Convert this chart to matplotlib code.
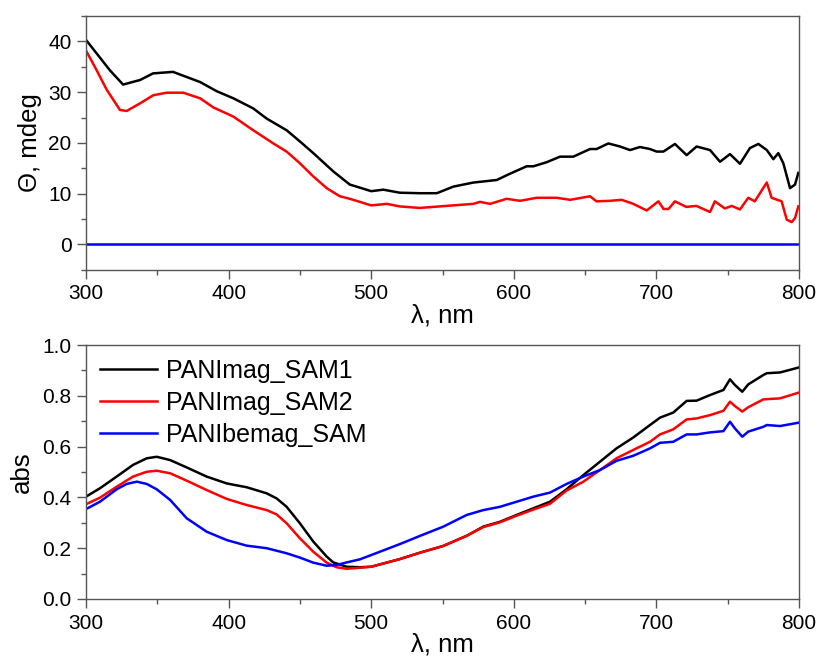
import matplotlib
matplotlib.use("Agg")
import matplotlib.pyplot as plt
from matplotlib.ticker import MultipleLocator

plt.rcParams['font.family'] = ['Liberation Sans', 'DejaVu Sans']

# ---- CD spectra (top) ----
cd_x_sam1 = [300, 316.8, 326, 337.9, 347, 361, 380, 391.6, 403.3, 417.3, 426.7, 440.7, 450, 459.4,
             473.4, 485, 492, 500, 508.5, 520, 534, 546, 557.6, 571.6, 588, 597, 609, 613.7, 623,
             632.4, 641.7, 653.4, 658, 666.3, 674.5, 681.5, 688.5, 695.5, 700.2, 704.9, 713, 721.2,
             728.2, 737.6, 744.6, 751.6, 758.6, 765.6, 771.5, 777.4, 782, 785.5, 789, 793.7, 797.2, 799.5]
cd_y_sam1 = [40.3, 34.3, 31.5, 32.4, 33.7, 34.0, 32.0, 30.2, 28.8, 26.8, 24.8, 22.5, 20.3, 18.0,
             14.4, 11.8, 11.2, 10.5, 10.8, 10.2, 10.1, 10.1, 11.4, 12.2, 12.7, 13.9, 15.4, 15.4, 16.2,
             17.3, 17.3, 18.8, 18.8, 19.9, 19.3, 18.6, 19.2, 18.8, 18.3, 18.3, 19.8, 17.6,
             19.3, 18.6, 16.3, 17.8, 15.9, 19.0, 19.8, 18.6, 16.8, 18.0, 16.0, 11.1, 11.8, 14.1]

cd_x_sam2 = [300, 307.5, 314.5, 323.8, 328.5, 337.9, 347.2, 356.6, 368.2, 380, 389.3, 403.3, 417.3,
             431.4, 440.7, 450, 459.4, 468.8, 478, 485, 492, 500, 511, 520, 534, 548, 571.6, 576.3,
             583.3, 595, 604.4, 616, 630, 639.5, 653.4, 658, 667.5, 675.7, 683.8, 693.2, 701.4, 705,
             708.5, 713, 721, 728, 737.6, 741, 748, 752.8, 758.6, 764.4, 769, 772.6, 777.4, 780.8,
             787.8, 791.4, 794.9, 797.2, 799.5]
cd_y_sam2 = [38.2, 34.3, 30.5, 26.5, 26.3, 27.8, 29.4, 29.9, 29.9, 28.8, 27.0, 25.2, 22.5,
             19.9, 18.3, 16.0, 13.4, 11.1, 9.5, 9.0, 8.4, 7.7, 8.0, 7.5, 7.2, 7.5, 8.0, 8.4,
             8.0, 9.0, 8.6, 9.2, 9.2, 8.8, 9.5, 8.5, 8.6, 8.8, 8.0, 6.7, 8.5, 7.0,
             7.0, 8.5, 7.4, 7.6, 6.4, 8.5, 7.1, 7.6, 6.9, 9.2, 8.5, 10.1, 12.2, 9.2,
             8.5, 4.9, 4.4, 5.2, 7.5]

cd_x_bemag = [300, 800]
cd_y_bemag = [0, 0]

# ---- absorption spectra (bottom) ----
abs_x_sam1 = [300, 309.8, 321.5, 333, 342.6, 349.6, 359, 370.6, 384.6, 398.7, 412.7, 426.7, 433.7,
              440.7, 450, 459.4, 468.8, 473.4, 482.8, 492, 500, 520, 534, 550.6, 567, 578.6, 590.3,
              602, 613.7, 625.4, 637, 648.8, 660.5, 672, 683.8, 695.5, 702.5, 711.8, 721.2, 728.2,
              737.6, 747, 751.6, 755, 760.2, 764.4, 775, 777.4, 786.7, 799.5]
abs_y_sam1 = [0.403, 0.436, 0.482, 0.528, 0.554, 0.560, 0.547, 0.518, 0.482, 0.455, 0.440, 0.416, 0.396,
              0.363, 0.298, 0.226, 0.167, 0.144, 0.127, 0.125, 0.127, 0.157, 0.182, 0.209, 0.249, 0.285, 0.304,
              0.331, 0.357, 0.383, 0.432, 0.488, 0.541, 0.593, 0.636, 0.685, 0.714, 0.734, 0.780, 0.781,
              0.803, 0.823, 0.865, 0.843, 0.816, 0.845, 0.882, 0.889, 0.892, 0.911]

abs_x_sam2 = [300, 309.8, 321.5, 333, 342.6, 349.6, 359, 370.6, 384.6, 398.7, 412.7, 426.7, 433.7,
              440.7, 450, 459.4, 468.8, 475.7, 482.8, 492, 500, 520, 534, 550.6, 567, 578.6, 590.3,
              602, 613.7, 625.4, 637, 648.8, 660.5, 672, 683.8, 695.5, 702.5, 711.8, 721.2, 728.2,
              737.6, 747, 751.6, 755, 760.2, 764.4, 775, 786.7, 799.5]
abs_y_sam2 = [0.373, 0.399, 0.442, 0.482, 0.501, 0.505, 0.495, 0.466, 0.429, 0.394, 0.370, 0.350, 0.333,
              0.298, 0.239, 0.186, 0.143, 0.125, 0.119, 0.123, 0.127, 0.157, 0.182, 0.209, 0.249, 0.283, 0.302,
              0.328, 0.352, 0.375, 0.427, 0.462, 0.508, 0.554, 0.587, 0.619, 0.648, 0.668, 0.707, 0.711,
              0.724, 0.741, 0.777, 0.760, 0.738, 0.755, 0.786, 0.790, 0.812]

abs_x_bemag = [300, 309.8, 321.5, 328.5, 335.6, 342.6, 349.6, 359, 370.6, 384.6, 398.7, 412.7, 426.7,
               433.7, 440.7, 450, 459.4, 468.8, 475.7, 482.8, 492, 500, 520, 534, 550.6, 567, 578.6,
               590.3, 602, 613.7, 625.4, 637, 648.8, 660.5, 672, 683.8, 695.5, 702.5, 711.8, 721.2,
               728.2, 737.6, 747, 751.6, 755, 760.2, 764.4, 775, 777.4, 786.7, 799.5]
abs_y_bemag = [0.354, 0.383, 0.432, 0.453, 0.462, 0.453, 0.432, 0.390, 0.318, 0.265, 0.232, 0.210, 0.200,
               0.190, 0.180, 0.163, 0.143, 0.131, 0.134, 0.144, 0.156, 0.173, 0.216, 0.248, 0.285, 0.331, 0.350,
               0.363, 0.383, 0.403, 0.419, 0.453, 0.482, 0.508, 0.544, 0.564, 0.593, 0.615, 0.619, 0.648,
               0.648, 0.656, 0.661, 0.698, 0.672, 0.639, 0.659, 0.678, 0.685, 0.681, 0.694]

labels = ['PANImag_SAM1', 'PANImag_SAM2', 'PANIbemag_SAM']
colors = ['black', 'red', 'blue']

fig = plt.figure(figsize=(8.19, 6.68), dpi=100)
ax1 = fig.add_axes([0.105, 0.596, 0.8706, 0.380])
ax2 = fig.add_axes([0.105, 0.1033, 0.8706, 0.3802])

lw = 1.8
ax1.plot(cd_x_sam1, cd_y_sam1, color=colors[0], lw=lw)
ax1.plot(cd_x_sam2, cd_y_sam2, color=colors[1], lw=lw)
ax1.plot(cd_x_bemag, cd_y_bemag, color=colors[2], lw=lw)

ax2.plot(abs_x_sam1, abs_y_sam1, color=colors[0], lw=lw, label=labels[0])
ax2.plot(abs_x_sam2, abs_y_sam2, color=colors[1], lw=lw, label=labels[1])
ax2.plot(abs_x_bemag, abs_y_bemag, color=colors[2], lw=lw, label=labels[2])

ax1.set_xlim(300, 800)
ax1.set_ylim(-5, 45)
ax1.yaxis.set_major_locator(MultipleLocator(10))
ax1.yaxis.set_minor_locator(MultipleLocator(5))
ax1.set_ylabel('Θ, mdeg', fontsize=18.5, labelpad=4)

ax2.set_xlim(300, 800)
ax2.set_ylim(0, 1.0)
ax2.yaxis.set_major_locator(MultipleLocator(0.2))
ax2.yaxis.set_minor_locator(MultipleLocator(0.1))
ax2.yaxis.set_major_formatter(matplotlib.ticker.FormatStrFormatter('%.1f'))
ax2.set_ylabel('abs', fontsize=18.5, labelpad=6)

for ax in (ax1, ax2):
    ax.xaxis.set_major_locator(MultipleLocator(100))
    ax.xaxis.set_minor_locator(MultipleLocator(50))
    ax.set_xlabel('λ, nm', fontsize=18.5, labelpad=0)
    ax.tick_params(which='major', direction='out', length=6.5, width=1, labelsize=15,
                   colors='#555555', labelcolor='black', pad=4)
    ax.tick_params(which='minor', direction='out', length=3.5, width=1, colors='#555555')
    for s in ax.spines.values():
        s.set_color('#555555')
        s.set_linewidth(1.0)

ax2.legend(loc='upper left', frameon=False, fontsize=18, handlelength=2.3,
           borderaxespad=0.2, labelspacing=0.32, handletextpad=0.36, borderpad=0.36)

fig.savefig('out.png', dpi=100)
